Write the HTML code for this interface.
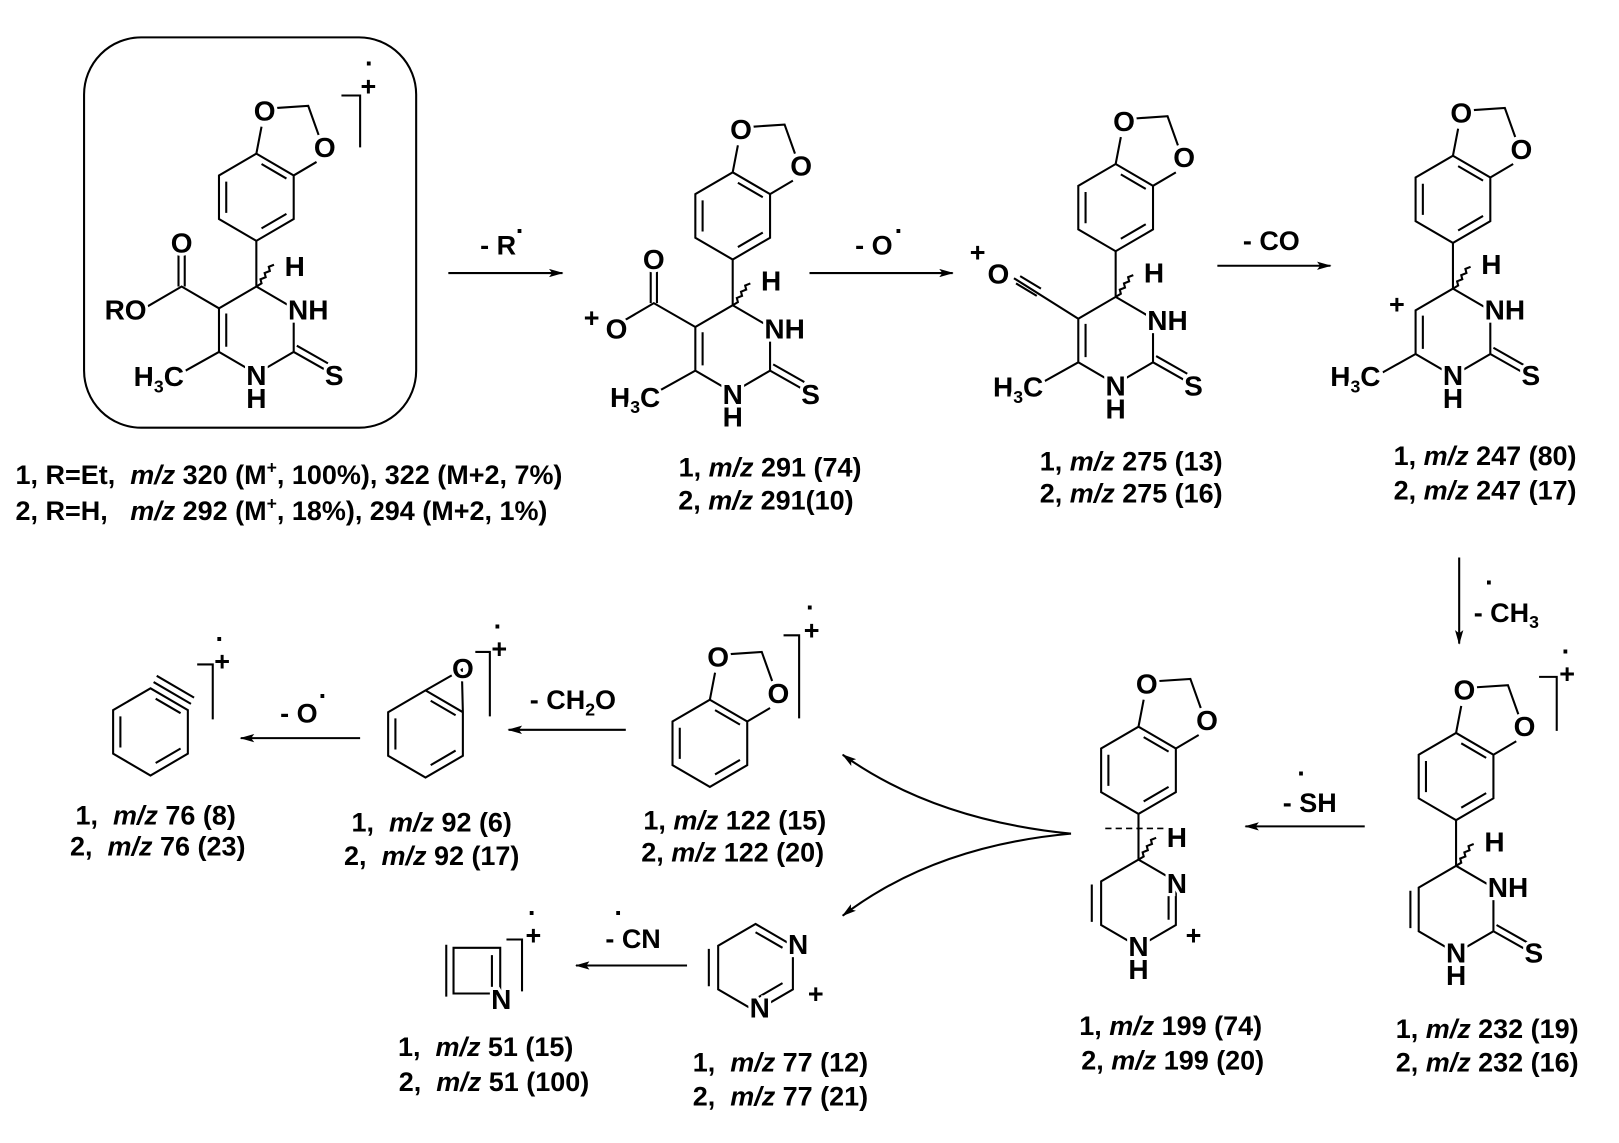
<!DOCTYPE html>
<html><head><meta charset="utf-8"><style>
html,body{margin:0;padding:0;background:#fff;}
svg{display:block;}
.b{stroke:#000;stroke-width:2;fill:none;}
.a{font-family:"Liberation Sans",Arial,sans-serif;font-weight:bold;font-size:27px;fill:#000;stroke:#fff;stroke-width:6px;paint-order:stroke;text-anchor:middle;}
.c{font-family:"Liberation Sans",Arial,sans-serif;font-weight:bold;font-size:26px;fill:#000;white-space:pre;}
.s{font-size:17px;}
</style></head><body>
<svg width="1619" height="1143" viewBox="0 0 1560 1101" preserveAspectRatio="none" xmlns="http://www.w3.org/2000/svg" xml:space="preserve">
<defs>
<marker id="ar" markerWidth="14" markerHeight="8" refX="13" refY="4" orient="auto" markerUnits="userSpaceOnUse"><path d="M0,0 L14,4 L0,8 L3,4 Z" fill="#000"/></marker>
</defs>

<rect x="81" y="36" width="320" height="376" rx="55" class="b" stroke-width="1.6"/>

<!-- Structure 1 -->
<g transform="translate(247,190)">
<path class="b" d="M0,-42 L36,-21 L36,21 L0,42 L-36,21 L-36,-21 Z M5,-32 L29,-18 M29,16 L5,30 M-29,15 L-29,-15 M0,-42 L5,-68 M20,-86 L50,-88 L60,-60 M58,-34 L36,-21"/>
<text class="a" x="8" y="-74">O</text><text class="a" x="66" y="-39">O</text>
<path class="b" d="M0,42 L0,86 M0,86 L36,107 L36,149 L0,170 L-36,149 L-36,107 Z M-29,112 L-29,144 M36,149 L66,166 M39,143 L69,160 M-36,149 L-70,168 M-36,107 L-72,86 L-108,107 M-75,86 L-75,46 M-69,86 L-69,46 M0,86 l5,-3 l-1,-4 l5,-2 l-1,-4 l5,-2 l-1,-4 l5,-2"/>
<text class="a" x="37" y="76">H</text>
<text class="a" x="50" y="118">NH</text>
<text class="a" x="0" y="181">N</text><text class="a" x="0" y="203">H</text>
<text class="a" x="75" y="181">S</text>
<text class="a" x="-72" y="53">O</text>
<text class="a" x="-126" y="118">RO</text>
<text class="a" x="-94" y="182">H<tspan class="s" dy="6">3</tspan><tspan dy="-6">C</tspan></text>
</g>
<path class="b" d="M329,92 L347,92 L347,142"/>
<text class="c" x="355" y="92" text-anchor="middle" font-size="22">+</text>
<text class="c" x="356" y="70" text-anchor="middle">·</text>

<line class="b" x1="432" y1="263" x2="542" y2="263" marker-end="url(#ar)"/>
<text class="c" x="480" y="245" text-anchor="middle">- R</text><text class="c" x="497" y="231">·</text>

<!-- Structure 2 -->
<g transform="translate(706,208)">
<path class="b" d="M0,-42 L36,-21 L36,21 L0,42 L-36,21 L-36,-21 Z M5,-32 L29,-18 M29,16 L5,30 M-29,15 L-29,-15 M0,-42 L5,-68 M20,-86 L50,-88 L60,-60 M58,-34 L36,-21"/>
<text class="a" x="8" y="-74">O</text><text class="a" x="66" y="-39">O</text>
<path class="b" d="M0,42 L0,86 M0,86 L36,107 L36,149 L0,170 L-36,149 L-36,107 Z M-29,112 L-29,144 M36,149 L66,166 M39,143 L69,160 M-36,149 L-70,168 M-36,107 L-76,84 L-110,104 M-79,84 L-79,46 M-73,84 L-73,46 M0,86 l5,-3 l-1,-4 l5,-2 l-1,-4 l5,-2 l-1,-4 l5,-2"/>
<text class="a" x="37" y="72">H</text>
<text class="a" x="50" y="118">NH</text>
<text class="a" x="0" y="181">N</text><text class="a" x="0" y="203">H</text>
<text class="a" x="75" y="181">S</text>
<text class="a" x="-76" y="51">O</text>
<text class="a" x="-112" y="118">O</text>
<text class="c" x="-136" y="107" text-anchor="middle" font-size="22">+</text>
<text class="a" x="-94" y="184">H<tspan class="s" dy="6">3</tspan><tspan dy="-6">C</tspan></text>
</g>

<line class="b" x1="780" y1="263" x2="918" y2="263" marker-end="url(#ar)"/>
<text class="c" x="842" y="245" text-anchor="middle">- O</text><text class="c" x="862" y="231">·</text>

<!-- Structure 3 -->
<g transform="translate(1075,200)">
<path class="b" d="M0,-42 L36,-21 L36,21 L0,42 L-36,21 L-36,-21 Z M5,-32 L29,-18 M29,16 L5,30 M-29,15 L-29,-15 M0,-42 L5,-68 M20,-86 L50,-88 L60,-60 M58,-34 L36,-21"/>
<text class="a" x="8" y="-74">O</text><text class="a" x="66" y="-39">O</text>
<path class="b" d="M0,42 L0,86 M0,86 L36,107 L36,149 L0,170 L-36,149 L-36,107 Z M-29,112 L-29,144 M36,149 L66,166 M39,143 L69,160 M-36,149 L-70,168 M-36,107 L-98,68 M-72,78 L-92,66 M-76,85 L-96,73 M0,86 l5,-3 l-1,-4 l5,-2 l-1,-4 l5,-2 l-1,-4 l5,-2"/>
<text class="a" x="37" y="72">H</text>
<text class="a" x="50" y="118">NH</text>
<text class="a" x="0" y="181">N</text><text class="a" x="0" y="203">H</text>
<text class="a" x="75" y="181">S</text>
<text class="a" x="-113" y="73">O</text>
<text class="c" x="-133" y="52" text-anchor="middle" font-size="22">+</text>
<text class="a" x="-94" y="182">H<tspan class="s" dy="6">3</tspan><tspan dy="-6">C</tspan></text>
</g>

<line class="b" x1="1173" y1="256" x2="1282" y2="256" marker-end="url(#ar)"/>
<text class="c" x="1225" y="241" text-anchor="middle">- CO</text>

<!-- Structure 4 -->
<g transform="translate(1400,192)">
<path class="b" d="M0,-42 L36,-21 L36,21 L0,42 L-36,21 L-36,-21 Z M5,-32 L29,-18 M29,16 L5,30 M-29,15 L-29,-15 M0,-42 L5,-68 M20,-86 L50,-88 L60,-60 M58,-34 L36,-21"/>
<text class="a" x="8" y="-74">O</text><text class="a" x="66" y="-39">O</text>
<path class="b" d="M0,42 L0,86 M0,86 L36,107 L36,149 L0,170 L-36,149 L-36,107 Z M-29,112 L-29,144 M36,149 L66,166 M39,143 L69,160 M-36,149 L-70,168 M0,86 l5,-3 l-1,-4 l5,-2 l-1,-4 l5,-2 l-1,-4 l5,-2"/>
<text class="a" x="37" y="72">H</text>
<text class="a" x="50" y="116">NH</text>
<text class="a" x="0" y="179">N</text><text class="a" x="0" y="201">H</text>
<text class="a" x="75" y="179">S</text>
<text class="c" x="-54" y="110" text-anchor="middle" font-size="22">+</text>
<text class="a" x="-94" y="180">H<tspan class="s" dy="6">3</tspan><tspan dy="-6">C</tspan></text>
</g>

<line class="b" x1="1406" y1="537" x2="1406" y2="620" marker-end="url(#ar)"/>
<text class="c" x="1420" y="599">- CH<tspan class="s" dy="6">3</tspan></text><text class="c" x="1431" y="570">·</text>

<!-- Structure 5 (232) -->
<g transform="translate(1403,748)">
<path class="b" d="M0,-42 L36,-21 L36,21 L0,42 L-36,21 L-36,-21 Z M5,-32 L29,-18 M29,16 L5,30 M-29,15 L-29,-15 M0,-42 L5,-68 M20,-86 L50,-88 L60,-60 M58,-34 L36,-21"/>
<text class="a" x="8" y="-74">O</text><text class="a" x="66" y="-39">O</text>
<path class="b" d="M0,42 L0,86 M0,86 L36,107 L36,149 L0,170 L-36,149 L-36,107 Z M-44,110 L-44,146 M36,149 L66,166 M39,143 L69,160 M0,86 l5,-3 l-1,-4 l5,-2 l-1,-4 l5,-2 l-1,-4 l5,-2"/>
<text class="a" x="37" y="72">H</text>
<text class="a" x="50" y="116">NH</text>
<text class="a" x="0" y="179">N</text><text class="a" x="0" y="201">H</text>
<text class="a" x="75" y="179">S</text>
</g>
<path class="b" d="M1483,652 L1500,652 L1500,704"/>
<text class="c" x="1510" y="658" text-anchor="middle" font-size="22">+</text>
<text class="c" x="1509" y="636" text-anchor="middle">·</text>

<line class="b" x1="1315" y1="796" x2="1200" y2="796" marker-end="url(#ar)"/>
<text class="c" x="1262" y="782" text-anchor="middle">- SH</text><text class="c" x="1250" y="754">·</text>

<!-- Structure 6 (199) -->
<g transform="translate(1097,742)">
<path class="b" d="M0,-42 L36,-21 L36,21 L0,42 L-36,21 L-36,-21 Z M5,-32 L29,-18 M29,16 L5,30 M-29,15 L-29,-15 M0,-42 L5,-68 M20,-86 L50,-88 L60,-60 M58,-34 L36,-21"/>
<text class="a" x="8" y="-74">O</text><text class="a" x="66" y="-39">O</text>
<path class="b" d="M0,42 L0,86 M0,86 L36,107 L36,149 L0,170 L-36,149 L-36,107 Z M-45,110 L-45,146 M29,112 L29,144 M0,86 l5,-3 l-1,-4 l5,-2 l-1,-4 l5,-2 l-1,-4 l5,-2"/>
<path d="M-32,56 L30,56" stroke="#000" stroke-width="1.5" stroke-dasharray="6,4"/>
<text class="a" x="37" y="74">H</text>
<text class="a" x="37" y="118">N</text>
<text class="a" x="0" y="179">N</text><text class="a" x="0" y="201">H</text>
<text class="c" x="53" y="168" text-anchor="middle" font-size="22">+</text>
</g>

<path class="b" d="M1032,803 Q900,790 812,727" marker-end="url(#ar)"/>
<path class="b" d="M1032,803 Q900,815 812,882" marker-end="url(#ar)"/>

<!-- Structure 122 -->
<g transform="translate(684,716)">
<path class="b" d="M0,-42 L36,-21 L36,21 L0,42 L-36,21 L-36,-21 Z M5,-32 L29,-18 M29,16 L5,30 M-29,15 L-29,-15 M0,-42 L5,-68 M20,-86 L50,-88 L60,-60 M58,-34 L36,-21"/>
<text class="a" x="8" y="-74">O</text><text class="a" x="66" y="-39">O</text>
</g>
<path class="b" d="M755,612 L770,612 L770,692"/>
<text class="c" x="782" y="616" text-anchor="middle" font-size="22">+</text>
<text class="c" x="781" y="594" text-anchor="middle">·</text>

<line class="b" x1="603" y1="703" x2="490" y2="703" marker-end="url(#ar)"/>
<text class="c" x="552" y="683" text-anchor="middle">- CH<tspan class="s" dy="6">2</tspan><tspan dy="-6">O</tspan></text>

<!-- Structure 92 -->
<g transform="translate(410,707)">
<path class="b" d="M0,-42 L35,-62 L36,-21 L36,21 L0,42 L-36,21 L-36,-21 Z M0,-42 L36,-21 M5,-32 L29,-18 M29,16 L5,30 M-29,15 L-29,-15"/>
<text class="a" x="36" y="-54">O</text>
</g>
<path class="b" d="M458,628 L472,628 L472,690"/>
<text class="c" x="481" y="634" text-anchor="middle" font-size="22">+</text>
<text class="c" x="480" y="612" text-anchor="middle">·</text>

<line class="b" x1="347" y1="711" x2="232" y2="711" marker-end="url(#ar)"/>
<text class="c" x="288" y="696" text-anchor="middle">- O</text><text class="c" x="307" y="679">·</text>

<!-- Structure 76 -->
<g transform="translate(145,705)">
<path class="b" d="M0,-42 L36,-21 L36,21 L0,42 L-36,21 L-36,-21 Z M5,-32 L29,-18 M29,16 L5,30 M-29,15 L-29,-15 M3,-48 L39,-27 M6,-54 L42,-33"/>
</g>
<path class="b" d="M190,640 L205,640 L205,693"/>
<text class="c" x="214" y="646" text-anchor="middle" font-size="22">+</text>
<text class="c" x="212" y="624" text-anchor="middle">·</text>

<!-- Structure 77 -->
<g transform="translate(728,932)">
<path class="b" d="M0,-42 L36,-21 L36,21 L0,42 L-36,21 L-36,-21 Z M0,-34 L26,-19 M26,15 L2,29 M-45,-18 L-45,18"/>
<text class="a" x="41" y="-13">N</text>
<text class="a" x="4" y="48">N</text>
<text class="c" x="58" y="34" text-anchor="middle" font-size="22">+</text>
</g>

<line class="b" x1="662" y1="930" x2="555" y2="930" marker-end="url(#ar)"/>
<text class="c" x="610" y="913" text-anchor="middle">- CN</text><text class="c" x="592" y="888">·</text>

<!-- Structure 51 -->
<path class="b" d="M437,913 L482,913 L482,957 L437,957 Z M430,910 L430,960 M474,920 L474,952"/>
<text class="a" x="483" y="972">N</text>
<path class="b" d="M488,905 L503,905 L503,955"/>
<text class="c" x="514" y="910" text-anchor="middle" font-size="22">+</text>
<text class="c" x="513" y="888" text-anchor="middle">·</text>

<!-- Captions -->
<text class="c" x="15" y="466">1, R=Et,  <tspan font-style="italic">m/z</tspan> 320 (M<tspan class="s" dy="-10">+</tspan><tspan dy="10">, 100%), 322 (M+2, 7%)</tspan></text>
<text class="c" x="15" y="501">2, R=H,   <tspan font-style="italic">m/z</tspan> 292 (M<tspan class="s" dy="-10">+</tspan><tspan dy="10">, 18%), 294 (M+2, 1%)</tspan></text>

<text class="c" x="742" y="459" text-anchor="middle">1, <tspan font-style="italic">m/z</tspan> 291 (74)</text>
<text class="c" x="738" y="491" text-anchor="middle">2, <tspan font-style="italic">m/z</tspan> 291(10)</text>

<text class="c" x="1090" y="453" text-anchor="middle">1, <tspan font-style="italic">m/z</tspan> 275 (13)</text>
<text class="c" x="1090" y="484" text-anchor="middle">2, <tspan font-style="italic">m/z</tspan> 275 (16)</text>

<text class="c" x="1431" y="448" text-anchor="middle">1, <tspan font-style="italic">m/z</tspan> 247 (80)</text>
<text class="c" x="1431" y="481" text-anchor="middle">2, <tspan font-style="italic">m/z</tspan> 247 (17)</text>

<text class="c" x="1433" y="1000" text-anchor="middle">1, <tspan font-style="italic">m/z</tspan> 232 (19)</text>
<text class="c" x="1433" y="1032" text-anchor="middle">2, <tspan font-style="italic">m/z</tspan> 232 (16)</text>

<text class="c" x="1128" y="997" text-anchor="middle">1, <tspan font-style="italic">m/z</tspan> 199 (74)</text>
<text class="c" x="1130" y="1030" text-anchor="middle">2, <tspan font-style="italic">m/z</tspan> 199 (20)</text>

<text class="c" x="708" y="799" text-anchor="middle">1, <tspan font-style="italic">m/z</tspan> 122 (15)</text>
<text class="c" x="706" y="830" text-anchor="middle">2, <tspan font-style="italic">m/z</tspan> 122 (20)</text>

<text class="c" x="416" y="801" text-anchor="middle">1,  <tspan font-style="italic">m/z</tspan> 92 (6)</text>
<text class="c" x="416" y="833" text-anchor="middle">2,  <tspan font-style="italic">m/z</tspan> 92 (17)</text>

<text class="c" x="150" y="794" text-anchor="middle">1,  <tspan font-style="italic">m/z</tspan> 76 (8)</text>
<text class="c" x="152" y="824" text-anchor="middle">2,  <tspan font-style="italic">m/z</tspan> 76 (23)</text>

<text class="c" x="752" y="1032" text-anchor="middle">1,  <tspan font-style="italic">m/z</tspan> 77 (12)</text>
<text class="c" x="752" y="1065" text-anchor="middle">2,  <tspan font-style="italic">m/z</tspan> 77 (21)</text>

<text class="c" x="468" y="1017" text-anchor="middle">1,  <tspan font-style="italic">m/z</tspan> 51 (15)</text>
<text class="c" x="476" y="1051" text-anchor="middle">2,  <tspan font-style="italic">m/z</tspan> 51 (100)</text>
</svg>
</body></html>
